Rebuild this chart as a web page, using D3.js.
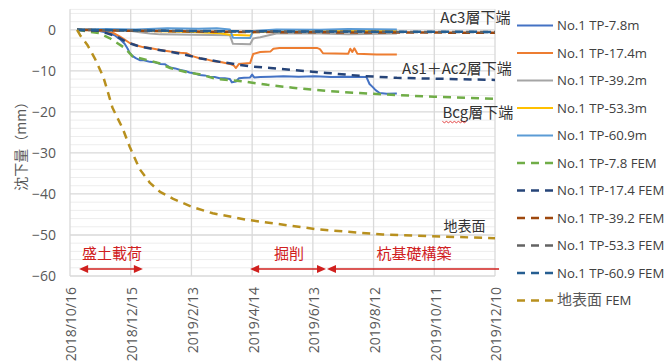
<!DOCTYPE html>
<html>
<head>
<meta charset="utf-8">
<script src="https://cdn.jsdelivr.net/npm/d3@7"></script>
<style>
  body { margin: 0; background: #fff; }
  svg { display: block; }
</style>
</head>
<body>
<svg id="chart" width="671" height="363"></svg>
<script>
// ---- axis ticks ----
const tickDates  = ["2018-10-16","2018-12-15","2019-02-13","2019-04-14","2019-06-13","2019-08-12","2019-10-11","2019-12-10"];
const tickLabels = ["2018/10/16","2018/12/15","2019/2/13","2019/4/14","2019/6/13","2019/8/12","2019/10/11","2019/12/10"];
const yTicks = [0, -10, -20, -30, -40, -50, -60];

// ---- measured settlement (mm) ----
const tp78 = [["2018-10-23",0],["2018-11-05",0.1],["2018-11-14",-0.3],["2018-11-20",-0.6],["2018-11-24",-0.9],["2018-11-29",-1.3],["2018-12-04",-2.2],["2018-12-07",-2.9],["2018-12-09",-3.4],["2018-12-12",-4.6],["2018-12-14",-5.6],["2018-12-17",-6.4],["2018-12-20",-6.9],["2018-12-24",-7.4],["2018-12-28",-7.4],["2019-01-03",-7.8],["2019-01-08",-7.9],["2019-01-13",-8.3],["2019-01-18",-8.4],["2019-01-23",-9.2],["2019-01-28",-9.4],["2019-02-02",-9.8],["2019-02-07",-10.0],["2019-02-11",-10.4],["2019-02-16",-10.6],["2019-02-21",-11.0],["2019-02-26",-11.1],["2019-03-03",-11.4],["2019-03-08",-11.5],["2019-03-13",-11.8],["2019-03-18",-11.8],["2019-03-23",-12.0],["2019-03-25",-12.8],["2019-03-29",-12.6],["2019-04-01",-11.8],["2019-04-06",-11.7],["2019-04-12",-11.6],["2019-04-14",-10.9],["2019-04-16",-11.6],["2019-04-22",-11.5],["2019-05-02",-11.4],["2019-05-15",-11.3],["2019-05-30",-11.4],["2019-06-15",-11.3],["2019-07-01",-11.5],["2019-07-18",-11.4],["2019-08-05",-11.5],["2019-08-08",-13.2],["2019-08-11",-13.9],["2019-08-14",-14.7],["2019-08-18",-15.4],["2019-08-25",-15.6],["2019-09-04",-15.5]];
const tp174 = [["2018-10-23",0],["2018-11-14",-0.1],["2018-11-20",-0.3],["2018-11-24",-0.5],["2018-11-29",-0.9],["2018-12-04",-1.6],["2018-12-09",-2.4],["2018-12-14",-3.2],["2018-12-21",-3.8],["2018-12-27",-4.2],["2019-01-03",-4.4],["2019-01-13",-4.9],["2019-01-23",-5.3],["2019-02-02",-5.6],["2019-02-08",-5.7],["2019-02-14",-6.4],["2019-02-21",-6.9],["2019-02-28",-7.2],["2019-03-06",-7.6],["2019-03-15",-7.9],["2019-03-23",-8.3],["2019-03-27",-8.7],["2019-03-29",-9.3],["2019-04-01",-8.3],["2019-04-12",-8.1],["2019-04-15",-5.9],["2019-04-22",-5.4],["2019-05-02",-5.3],["2019-05-05",-4.6],["2019-05-11",-4.4],["2019-06-17",-4.4],["2019-06-20",-4.7],["2019-06-23",-5.7],["2019-07-18",-5.8],["2019-07-20",-4.6],["2019-07-22",-5.4],["2019-07-24",-4.5],["2019-07-27",-5.8],["2019-08-15",-6.0],["2019-09-04",-6.0]];
const tp392 = [["2018-10-23",0],["2018-12-14",-0.2],["2018-12-24",-0.6],["2019-01-03",-0.9],["2019-01-13",-1.1],["2019-02-14",-1.2],["2019-03-23",-1.3],["2019-03-26",-3.4],["2019-04-12",-3.5],["2019-04-15",-2.1],["2019-04-22",-1.8],["2019-05-08",-0.9],["2019-06-20",-0.9],["2019-07-18",-1.1],["2019-09-04",-0.9]];
const tp533 = [["2018-10-23",0],["2018-12-14",-0.1],["2019-01-03",-0.3],["2019-02-14",-0.5],["2019-03-13",-0.8],["2019-03-23",-1.2],["2019-04-12",-1.4],["2019-04-15",-0.6],["2019-05-08",-0.4],["2019-07-01",-0.3],["2019-09-04",-0.3]];
const tp609 = [["2018-10-23",0],["2018-11-20",0.2],["2018-12-20",0.1],["2019-01-20",0.4],["2019-02-20",0.3],["2019-03-10",0.4],["2019-03-23",0.1],["2019-03-26",-1.9],["2019-04-12",-2.0],["2019-04-15",-0.3],["2019-05-08",0.1],["2019-06-20",0.0],["2019-07-18",0.2],["2019-09-04",0.1]];

// ---- FEM analysis (mm) ----
const fem78 = [["2018-10-23",0],["2018-11-14",-0.8],["2018-11-24",-2.0],["2018-12-09",-4.4],["2018-12-17",-6.5],["2019-01-03",-7.5],["2019-01-13",-8.2],["2019-01-23",-9.3],["2019-02-11",-10.5],["2019-02-21",-10.8],["2019-03-10",-12.0],["2019-03-26",-12.3],["2019-04-09",-12.7],["2019-04-29",-13.4],["2019-05-24",-14.1],["2019-06-27",-14.9],["2019-07-29",-15.4],["2019-09-04",-15.9],["2019-10-11",-16.3],["2019-12-10",-16.8]];
const fem174 = [["2018-10-23",0],["2018-11-14",-0.2],["2018-11-21",-0.8],["2018-12-01",-1.6],["2018-12-11",-3.0],["2018-12-24",-4.1],["2019-01-10",-4.8],["2019-02-02",-5.8],["2019-02-21",-6.9],["2019-03-13",-7.8],["2019-04-12",-8.9],["2019-05-02",-9.3],["2019-05-24",-9.8],["2019-06-27",-10.5],["2019-07-29",-11.2],["2019-09-04",-11.7],["2019-12-10",-12.2]];
const fem392 = [["2018-10-23",0],["2018-12-14",-0.2],["2019-03-01",-0.45],["2019-06-13",-0.6],["2019-12-10",-0.7]];
const fem533 = [["2018-10-23",0],["2018-12-14",-0.15],["2019-03-01",-0.35],["2019-06-13",-0.45],["2019-12-10",-0.55]];
const fem609 = [["2018-10-23",0],["2018-12-14",-0.1],["2019-03-01",-0.3],["2019-06-13",-0.4],["2019-12-10",-0.5]];
const femGround = [["2018-10-23",0],["2018-10-26",-1.3],["2018-11-02",-3.6],["2018-11-10",-7.2],["2018-11-18",-11.5],["2018-11-27",-19.0],["2018-12-07",-24.0],["2018-12-14",-28.5],["2018-12-24",-34.0],["2019-01-03",-37.3],["2019-01-13",-39.5],["2019-01-26",-41.2],["2019-02-14",-43.2],["2019-03-06",-44.7],["2019-04-09",-46.3],["2019-06-17",-48.6],["2019-08-21",-49.9],["2019-12-10",-50.8]];

// ---- series order, names and colours ----
const seriesNames  = ["No.1 TP-7.8m","No.1 TP-17.4m","No.1 TP-39.2m","No.1 TP-53.3m","No.1 TP-60.9m",
                      "No.1 TP-7.8 FEM","No.1 TP-17.4 FEM","No.1 TP-39.2 FEM","No.1 TP-53.3 FEM","No.1 TP-60.9 FEM","地表面 FEM"];
const seriesData   = [tp78, tp174, tp392, tp533, tp609, fem78, fem174, fem392, fem533, fem609, femGround];
const seriesColors = ["#4472C4","#ED7D31","#A5A5A5","#FFC000","#5B9BD5",
                      "#70AD47","#264478","#9E480E","#636363","#255E91","#B8901E"];
const seriesDashed = [false,false,false,false,false,true,true,true,true,true,true];
const dashOffsets  = [0,0,0,0,0,0,0,7,3,0,0];

// ---- labels drawn inside the plot ----
const layerLabels = [
  {text: "Ac3層下端",     date: "2019-10-17", value: 1.6,   size: 15},
  {text: "As1＋Ac2層下端", date: "2019-09-09", value: -10.8, size: 15},
  {text: "Bcg層下端",     date: "2019-10-19", value: -21.5, size: 15},
  {text: "地表面",        date: "2019-10-20", value: -49.1, size: 14}
];
const phases = [
  {text: "盛土載荷",   start: "2018-10-25", end: "2018-12-27", leftHead: true, rightHead: true},
  {text: "掘削",       start: "2019-04-12", end: "2019-06-26", leftHead: true, rightHead: true},
  {text: "杭基礎構築", start: "2019-06-27", end: "2019-12-14", leftHead: true, rightHead: false}
];

// ---- drawing ----
const parse = d3.timeParse("%Y-%m-%d");
const svg = d3.select("#chart");

const x = d3.scaleTime()
  .domain([parse(tickDates[0]), parse(tickDates[tickDates.length - 1])])
  .range([70, 495]);
const y = d3.scaleLinear().domain([-60, 5]).range([276, 9.35]);

const grid = svg.append("g");
// minor horizontal gridlines every 2 mm
grid.selectAll("line.minor")
  .data(d3.range(-58, 5, 2).filter(v => v % 10 !== 0))
  .join("line")
  .attr("x1", x.range()[0]).attr("x2", x.range()[1])
  .attr("y1", d => y(d)).attr("y2", d => y(d))
  .attr("stroke", "#EDEDED").attr("stroke-width", 1);
// major horizontal gridlines every 10 mm
grid.selectAll("line.major")
  .data(yTicks)
  .join("line")
  .attr("x1", x.range()[0]).attr("x2", x.range()[1])
  .attr("y1", d => y(d)).attr("y2", d => y(d))
  .attr("stroke", "#D9D9D9").attr("stroke-width", 1.3);
// top border
grid.append("line")
  .attr("x1", x.range()[0]).attr("x2", x.range()[1])
  .attr("y1", y(5)).attr("y2", y(5))
  .attr("stroke", "#EDEDED").attr("stroke-width", 1);
// vertical gridlines at date ticks
grid.selectAll("line.v")
  .data(tickDates)
  .join("line")
  .attr("x1", d => x(parse(d))).attr("x2", d => x(parse(d)))
  .attr("y1", y(5)).attr("y2", y(-60))
  .attr("stroke", "#D9D9D9").attr("stroke-width", 1.3);

// x axis (rotated date labels)
const xAxis = d3.axisBottom(x)
  .tickValues(tickDates.map(parse))
  .tickFormat((d, i) => tickLabels[i])
  .tickSize(0);
const gx = svg.append("g").attr("transform", `translate(0,${y(-60)})`).call(xAxis);
gx.select(".domain").remove();
gx.selectAll("text")
  .attr("transform", "rotate(-90)")
  .attr("text-anchor", "end")
  .attr("x", -11).attr("y", 0).attr("dy", "0.42em")
  .attr("fill", "#595959")
  .style("font-family", "'Open Sans', sans-serif")
  .style("font-size", "14px");

// y axis
const yAxis = d3.axisLeft(y).tickValues(yTicks).tickSize(0).tickPadding(14);
const gy = svg.append("g").attr("transform", `translate(${x.range()[0]},0)`).call(yAxis);
gy.select(".domain").remove();
gy.selectAll("text")
  .attr("fill", "#595959")
  .style("font-family", "'Open Sans', sans-serif")
  .style("font-size", "14px");

// y axis title
svg.append("text")
  .attr("transform", `translate(21,${(y(5) + y(-60)) / 2}) rotate(-90)`)
  .attr("text-anchor", "middle")
  .attr("dy", "0.35em")
  .attr("fill", "#595959")
  .style("font-family", "'Noto Sans CJK JP', sans-serif")
  .style("font-size", "14px")
  .text("沈下量（mm）");

// series lines
const line = d3.line()
  .x(d => x(parse(d[0])))
  .y(d => y(d[1]));

const plotArea = svg.append("g");
seriesData.forEach((data, i) => {
  plotArea.append("path")
    .datum(data)
    .attr("d", line)
    .attr("fill", "none")
    .attr("stroke", seriesColors[i])
    .attr("stroke-width", seriesDashed[i] ? 2.5 : 2)
    .attr("stroke-linejoin", "round")
    .attr("stroke-dasharray", seriesDashed[i] ? "8,6" : null)
    .attr("stroke-dashoffset", dashOffsets[i]);
});

// layer labels
const labelG = svg.append("g");
layerLabels.forEach(l => {
  labelG.append("text")
    .attr("x", x(parse(l.date)))
    .attr("y", y(l.value))
    .attr("fill", "#333333")
    .style("font-family", "'Noto Sans CJK JP', sans-serif")
    .style("font-size", l.size + "px")
    .text(l.text);
});
// spell-check style squiggle under "Bcg"
{
  const b = layerLabels[2];
  const x0 = x(parse(b.date)), y0 = y(b.value) + 3.5;
  const pts = d3.range(0, 13).map(k => [x0 + k * 2, y0 + (k % 2 ? 1.2 : -0.2)]);
  labelG.append("path")
    .attr("d", d3.line()(pts))
    .attr("fill", "none").attr("stroke", "#E03030").attr("stroke-width", 0.9);
}

// construction phase arrows
const red = "#D0201E";
const arrowY = y(-58.3);
const textY = y(-54.6);
const phaseG = svg.append("g");
phases.forEach(p => {
  const x1 = x(parse(p.start)), x2 = x(parse(p.end));
  const hl = 9, hw = 4;
  phaseG.append("line")
    .attr("x1", x1 + (p.leftHead ? hl - 1 : 0)).attr("x2", x2 - (p.rightHead ? hl - 1 : 0))
    .attr("y1", arrowY).attr("y2", arrowY)
    .attr("stroke", red).attr("stroke-width", 1.5);
  if (p.leftHead) {
    phaseG.append("path")
      .attr("d", `M${x1},${arrowY}L${x1 + hl},${arrowY - hw}L${x1 + hl},${arrowY + hw}Z`)
      .attr("fill", red);
  }
  if (p.rightHead) {
    phaseG.append("path")
      .attr("d", `M${x2},${arrowY}L${x2 - hl},${arrowY - hw}L${x2 - hl},${arrowY + hw}Z`)
      .attr("fill", red);
  }
  phaseG.append("text")
    .attr("x", (x1 + x2) / 2 + 1)
    .attr("y", textY)
    .attr("dy", "0.35em")
    .attr("text-anchor", "middle")
    .attr("fill", red)
    .style("font-family", "'Noto Sans CJK JP', sans-serif")
    .style("font-size", "15px")
    .text(p.text);
});

// legend
const legend = svg.append("g").attr("transform", "translate(517,25.5)");
seriesNames.forEach((name, i) => {
  const row = legend.append("g").attr("transform", `translate(0,${i * 27.5})`);
  row.append("line")
    .attr("x1", 0).attr("x2", 36).attr("y1", 0).attr("y2", 0)
    .attr("stroke", seriesColors[i])
    .attr("stroke-width", seriesDashed[i] ? 2.5 : 2)
    .attr("stroke-dasharray", seriesDashed[i] ? "8,6" : null);
  const t = row.append("text")
    .attr("x", 40).attr("y", 0).attr("dy", "0.36em")
    .attr("fill", "#404040")
    .style("font-family", "'Open Sans', 'Noto Sans CJK JP', sans-serif")
    .style("font-size", "13.2px");
  const m = name.match(/^([^\x00-\x7F]+)(.*)$/);
  if (m) {
    t.append("tspan").style("font-size", "15px").attr("fill", "#595959").text(m[1]);
    t.append("tspan").text(m[2]);
  } else {
    t.text(name);
  }
});
</script>
</body>
</html>
